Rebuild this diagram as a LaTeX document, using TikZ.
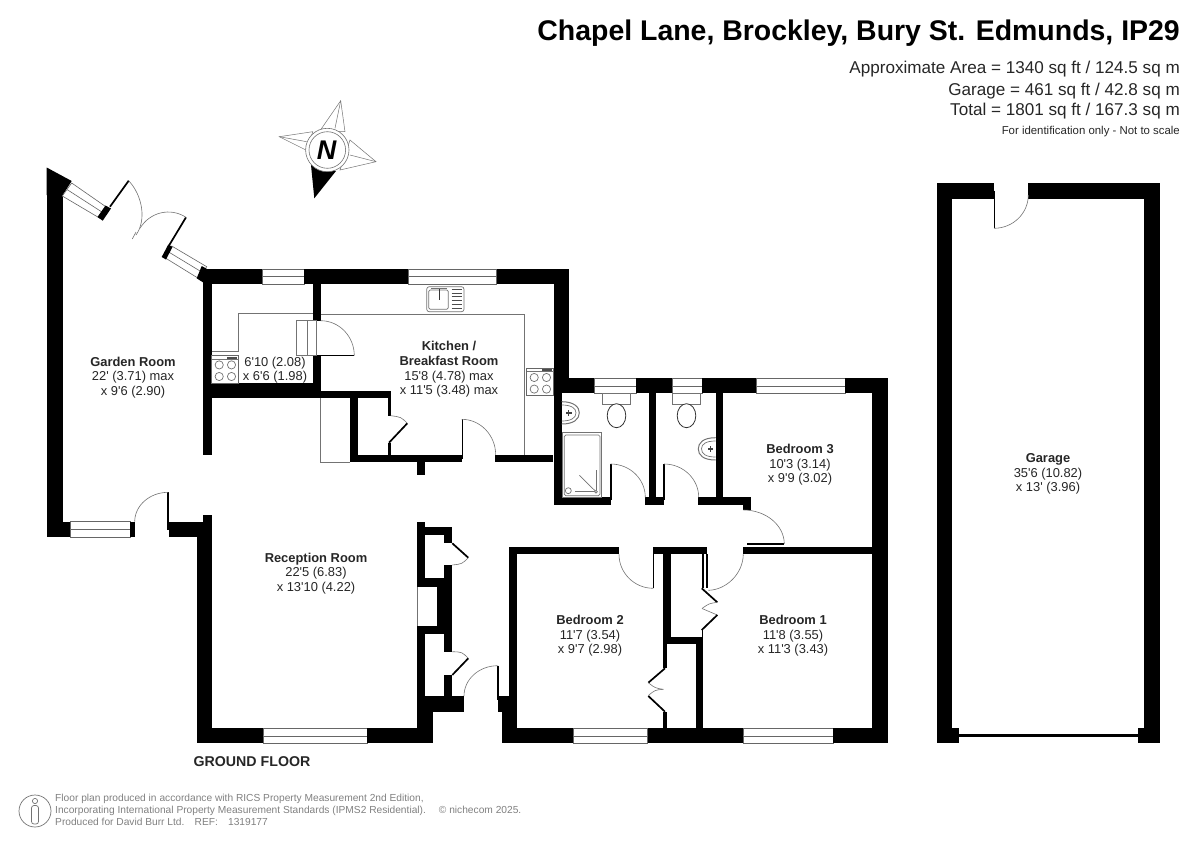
\documentclass[tikz,border=0pt]{standalone}
\usepackage{fontspec}
\newfontfamily\arial{Liberation Sans}
\newcommand{\fsz}[2]{\arial\fontsize{#1}{#2}\selectfont}
\tikzset{
  room/.style={font=\fsz{12.9}{14.6}, align=center, inner sep=0pt, text=black!85},
  rt/.style={font=\fsz{17.1}{21}, anchor=east, inner sep=0pt, text=black!85},
  foot/.style={font=\fsz{10.2}{12.2}, align=left, anchor=west, inner sep=0pt, text=black!50},
  arcline/.style={draw=black!55, line width=0.6pt},
  leaf/.style={draw=black, line width=1.7pt},
  fine/.style={draw=black!55, line width=0.7pt},
  fix/.style={draw=black!60, line width=0.8pt, fill=white},
  winline/.style={draw=black!60, line width=0.6pt, fill=white},
}
\newcommand{\wl}[4]{\fill[black] (#1,#2) rectangle (#3,#4);}
% horizontal window
\newcommand{\winh}[4]{\draw[winline] (#1,#2) rectangle (#3,#4); \draw[winline] (#1,{(#2+#4)/2}) -- (#3,{(#2+#4)/2});}
% door: hinge, leaf tip, closed tip
\newcommand{\qarc}[6]{\draw[arcline] (#3,#4) .. controls ({#3+0.5523*(#5-#1)},{#4+0.5523*(#6-#2)}) and ({#5+0.5523*(#3-#1)},{#6+0.5523*(#4-#2)}) .. (#5,#6);}
\newcommand{\hobb}[2]{% top-left of 27x27 hob
  \draw[fix] (#1,#2) rectangle ++(27,27.5);
  \draw[fine] (#1,#2+3.5) -- ++(27,0);
  \fill[black!70] (#1+15,#2+1) rectangle ++(10,2);
  \foreach \dx/\dy in {7.5/9.2,19.8/9.2,7.5/20.8,19.8/20.8}{\draw[fine] (#1+\dx,#2+\dy) circle[radius=4.1];}
}
\newcommand{\wcpan}[2]{% tank left-top x,y
  \draw[fine] (#1,#2) rectangle ++(28.4,11);
  \draw[draw=black!80,line width=0.8pt,fill=white] (#1+14.2,#2+22.4) ellipse[x radius=9.3,y radius=12];
}
\begin{document}
\begin{tikzpicture}[x=1pt,y=-1pt]
\useasboundingbox (0,0) rectangle (1200,849);
% ---------- header
\node[font=\fsz{28.45}{32}\bfseries, anchor=east, inner sep=0pt] (title) at (1180,33.5) {Chapel Lane, Brockley, Bury St. Edmunds, IP29};
\node[rt] (a1) at (1180,69.5) {Approximate Area = 1340 sq ft / 124.5 sq m};
\node[rt] (a2) at (1180,91) {Garage = 461 sq ft / 42.8 sq m};
\node[rt] (a3) at (1180,111.5) {Total = 1801 sq ft / 167.3 sq m};
\node[font=\fsz{11.4}{13}, anchor=east, inner sep=0pt, text=black!85] (a4) at (1180,132) {For identification only - Not to scale};
% ---------- compass
\draw[fine,line width=0.5pt,fill=white] (340.7,100.7) -- (320,130.7) -- (345,131.7) -- cycle;
\draw[fine,line width=0.5pt] (340.7,100.7) -- (335,128.3);
\draw[fine,line width=0.5pt,fill=white] (376,161.7) -- (350,140) -- (340,170) -- cycle;
\draw[fine,line width=0.5pt] (376,161.7) -- (350,155);
\draw[fine,line width=0.5pt,fill=white] (279.3,136.7) -- (312.7,131.7) -- (307.3,150.7) -- cycle;
\draw[fine,line width=0.5pt] (279.3,136.7) -- (306.7,141.7);
\fill[black] (314.3,198.3) -- (311,165) -- (336,171) -- cycle;
\draw[fine,line width=0.6pt,fill=white] (327.3,150) circle[radius=21.7];
\draw[fine,line width=0.6pt,fill=white] (327.3,150) circle[radius=18.3];
\node[font=\fsz{27}{29}\bfseries\itshape, inner sep=0pt] (north) at (326.5,150.5) {N};
% ---------- garden room
\fill[black] (46.7,167.5) -- (71.7,181) -- (62.5,195.5) -- (46.7,195) -- cycle;
\wl{46.7}{190}{62.7}{537.3}
\wl{46.7}{521.7}{70.7}{537.3}
\winh{70.7}{521.7}{130}{537.3}
\wl{130}{521.7}{134.7}{537.3}
\draw[winline] (71.7,183) -- (107.7,208) -- (100,218.3) -- (62.3,196) -- cycle;
\draw[winline] (67,189.5) -- (103.8,213.2);
\fill[black] (105.5,205.5) -- (111,208.5) -- (102.7,220.7) -- (97.5,217) -- cycle;
\draw[winline] (171.7,246) -- (206.7,266.7) -- (198.3,278.3) -- (163.3,256.7) -- cycle;
\draw[winline] (167.5,251.3) -- (202.5,272.5);
\fill[black] (168.3,244.5) -- (172.5,247) -- (166,259.5) -- (161.7,257) -- cycle;
\fill[black] (201.7,266) -- (207,269) -- (204,283) -- (196.7,278.3) -- cycle;
% double doors
\draw[leaf] (110,206.7) -- (128.7,180.7);
\qarc{110}{206.7}{128.7}{180.7}{136}{235}
\draw[arcline] (136,232) -- (132.3,239);
\draw[leaf] (168.3,246.7) -- (186,217.3);
\qarc{168.3}{246.7}{186}{217.3}{140}{228.3}
% door garden room
\draw[leaf] (168.3,492.3) -- (168.3,530);
\qarc{168.3}{521.7}{168.3}{492.3}{134.7}{521.7}
% reception left wall
\wl{168.7}{521.7}{212}{537.3}
\wl{203.3}{514.7}{212}{522}
\wl{196.7}{537}{212}{743.3}
\wl{203.3}{282}{211.7}{455.3}
% top wall
\wl{203.3}{269}{262.3}{284.3}
\winh{262.3}{269}{304.3}{284.3}
\wl{304.3}{269}{408.3}{284.3}
\winh{408.3}{269}{496.7}{284.3}
\wl{496.7}{269}{569.3}{284.3}
\wl{554.3}{269}{569.3}{393.3}
% utility partition
\wl{312.7}{284}{320.7}{320.7}
\wl{312.7}{355.7}{320.7}{398.3}
\wl{203.3}{383}{320.7}{398.3}
\wl{320}{390.7}{390.7}{398.3}
\wl{388}{398}{390.7}{415.7}
\wl{388}{442.7}{390.7}{455}
\wl{350}{398}{358.3}{462.3}
\wl{350}{455}{461.7}{462.3}
\wl{417.3}{462}{425.3}{475}
\wl{494.7}{455}{553.3}{462.3}
% counter lines
\draw[fine] (211.7,351.7) -- (238.3,351.7) -- (238.3,313.7) -- (312.7,313.7);
\draw[fine] (320.7,314.3) -- (524,314.3) -- (524,455);
\draw[fine] (320,398) -- (320,462.3) -- (350,462.3);
% utility door
\draw[fine,fill=white] (296.7,320.7) rectangle (316.7,355.7);
\draw[fine] (307.3,320.7) -- (307.3,355.7);
\draw[leaf,line width=1.2pt] (316.7,355.7) -- (354.3,355.7);
\qarc{320.7}{355.7}{354.3}{355.7}{320.7}{320.7}
\hobb{211.7}{355.7}
\hobb{526.7}{368.3}
% kitchen closet door + door
\draw[leaf] (389,442.7) -- (407.3,423.3);
\draw[arcline] (407.3,423.3) .. controls (401,417) .. (390.7,415.7);
\draw[leaf] (462.5,419.3) -- (462.5,459);
\qarc{461.7}{455}{461.7}{419.3}{495.7}{455}
% sink
\draw[fine,rounded corners=2.5pt] (426.7,286.7) rectangle (464,311.7);
\draw[fine,rounded corners=1.5pt] (428.7,290) rectangle (448.3,309.3);
\foreach \yy in {289.5,293.2,296.9,300.6,304.3,308}{\draw[black!70,line width=1pt] (451.7,\yy) -- (462.3,\yy);}
\draw[black!80,line width=0.9pt] (439,289) -- (439,299.5);
\draw[fine] (431,288) -- (447,288);
% ---------- bathrooms
\wl{554}{378.3}{594}{393.3}
\winh{594}{378.3}{636}{393.3}
\wl{636}{378.3}{672.7}{393.3}
\winh{672.7}{378.3}{702.3}{393.3}
\wl{702.3}{378.3}{756}{393.3}
\winh{756}{378.3}{845}{393.3}
\wl{845}{378.3}{887.7}{393.3}
\wl{872.3}{378.3}{887.7}{743.3}
\wl{554}{378.3}{561.7}{505}
\wl{554}{497.3}{610.7}{505}
\wl{648.7}{393}{656.3}{505}
\wl{645.3}{497.3}{664}{505}
\wl{698.3}{497.3}{750.7}{505}
\wl{715.7}{393}{723.3}{497.3}
\wl{743.3}{505}{750.7}{510}
% fixtures
\wcpan{602.3}{393.3}
\wcpan{672.3}{393.3}
\draw[fine,line width=1pt] (561.7,401.7) .. controls (574,401.7) and (579.3,407) .. (579.3,412.8) .. controls (579.3,419) and (574,424) .. (561.7,424);
\draw[fine] (561.7,405) .. controls (571,405) and (576,408) .. (576,412.8) .. controls (576,418) and (571,421) .. (561.7,421);
\fill[black!75] (566,412) rectangle (571.5,414);
\draw[black!75,line width=0.7pt] (568.5,410) -- (568.5,416);
\draw[fine,line width=1pt] (715.7,437.7) .. controls (703,437.7) and (698.3,443) .. (698.3,448.8) .. controls (698.3,455) and (703,460) .. (715.7,460);
\draw[fine] (715.7,441) .. controls (706,441) and (701.5,444) .. (701.5,448.8) .. controls (701.5,454) and (706,457) .. (715.7,457);
\fill[black!75] (707.5,448) rectangle (713,450);
\draw[black!75,line width=0.7pt] (710.5,446) -- (710.5,452);
\draw[fine] (562.7,432.7) rectangle (601.7,497.3);
\draw[fine,rounded corners=1.5pt] (564.3,435) rectangle (600,495.7);
\draw[fine] (579.3,475.3) -- (596,491.7);
\draw[fine] (596,470) -- (596,491.7) -- (575,491.7);
\draw[fine,fill=white] (568.3,490.7) circle[radius=3];
\draw[fine,fill=white] (596,491.7) circle[radius=1.4];
% bath doors
\draw[leaf] (610.7,464) -- (610.7,500);
\qarc{610.7}{497.3}{610.7}{464}{645.3}{497.3}
\draw[leaf] (664,464) -- (664,500);
\qarc{664}{497.3}{664}{464}{698.7}{497.3}
\draw[leaf] (747.3,544) -- (784.3,544);
\qarc{743.3}{544}{784.3}{544}{743.3}{510}
% ---------- bedrooms walls
\wl{509.3}{546.7}{619}{554.3}
\wl{509.3}{546.7}{517.3}{743.3}
\wl{653.3}{547.3}{707.3}{554.3}
\wl{743.3}{546.7}{887.7}{554.3}
\draw[leaf,line width=1.3pt] (653.5,554) -- (653.5,588.3);
\qarc{653.3}{554.3}{653.3}{588.3}{619}{554.3}
\wl{663.3}{554}{671}{644.3}
\wl{663.3}{636.7}{703.3}{644.3}
\wl{663.3}{644}{666.7}{668.3}
\wl{663.3}{711.7}{666.7}{728.5}
\wl{696}{644}{703.3}{728.5}
\wl{701.7}{630}{703.3}{637}
\wl{701.7}{554}{704}{588.3}
\wl{706}{554}{708.3}{588.3}
% arc bedroom 1 door
\draw[arcline] (743.3,554.3) .. controls (743,574) and (726,590) .. (708.3,590.3);
\draw[leaf] (701.7,588.3) -- (717.3,602.3);
\draw[arcline] (717.3,602.3) .. controls (709,603.5) .. (702,608.5);
\draw[arcline] (717.3,615) .. controls (709,612) .. (702,608.5);
\draw[leaf] (717.3,615) -- (701.7,630);
\draw[leaf] (665,668.3) -- (648.3,682.7);
\draw[arcline] (648.3,682.7) .. controls (655,688) .. (663.3,689.3);
\draw[arcline] (648.3,695.5) .. controls (655,690) .. (663.3,689.3);
\draw[leaf] (648.3,696) -- (665,711.7);
% bottom walls
\wl{501.7}{728.3}{573.3}{743.3}
\winh{573.3}{728.3}{647.7}{743.3}
\wl{647.7}{728.3}{743}{743.3}
\winh{743}{728.3}{833}{743.3}
\wl{833}{728.3}{887.7}{743.3}
\wl{196.7}{728.3}{263}{743.3}
\winh{263}{728.3}{367}{743.3}
\wl{367}{728.3}{432.7}{743.3}
\wl{425}{711}{432.7}{743.3}
% front cupboards
\wl{417.3}{522}{425}{586.7}
\wl{417.3}{526.7}{452.3}{535}
\wl{444.3}{535}{452.3}{543.3}
\wl{444.3}{565}{452.3}{651.7}
\wl{417.3}{578.3}{452.3}{586.7}
\wl{436.7}{578.3}{452.3}{634}
\wl{417.3}{626}{452.3}{634}
\wl{417.3}{626}{425}{728.5}
\draw[fine] (417.3,586.7) -- (417.3,626);
\wl{444.3}{675}{452.3}{696}
\wl{417.3}{696}{464}{711.7}
\draw[leaf] (452.3,543.3) -- (468.3,557.7);
\draw[arcline] (468.3,557.7) .. controls (462,564) .. (452.3,565);
\draw[leaf] (452.3,675) -- (468.3,658.3);
\draw[arcline] (468.3,658.3) .. controls (462,652) .. (452.3,651.7);
% entry door
\draw[leaf,line width=1.3pt] (498,665.7) -- (498,700);
\qarc{497.7}{696}{497.7}{665.7}{464}{696}
\wl{497.7}{696}{510}{711.7}
\wl{501.7}{711}{517.3}{743.3}
% ---------- garage
\wl{936.7}{183.3}{994}{199}
\wl{1028.3}{183.3}{1160}{199}
\wl{936.7}{183.3}{951.7}{743.3}
\wl{1144.3}{183.3}{1160}{743.3}
\wl{936.7}{728.3}{959.3}{743.3}
\wl{1137.7}{728.3}{1160}{743.3}
\wl{959.3}{734}{1137.7}{737.3}
\draw[leaf,line width=1.3pt] (994.3,190.7) -- (994.3,228.3);
\qarc{994}{195}{994}{228.3}{1028.3}{195}
% ---------- labels
\node[room] (r1) at (133,377.5) {\textbf{Garden Room}\\22' (3.71) max\\x 9'6 (2.90)};
\node[room] (r2) at (275,370) {6'10 (2.08)\\x 6'6 (1.98)};
\node[room] (r3) at (449,369.5) {\textbf{Kitchen /}\\\textbf{Breakfast Room}\\15'8 (4.78) max\\x 11'5 (3.48) max};
\node[room] (r4) at (316,573.5) {\textbf{Reception Room}\\22'5 (6.83)\\x 13'10 (4.22)};
\node[room] (r5) at (800,465) {\textbf{Bedroom 3}\\10'3 (3.14)\\x 9'9 (3.02)};
\node[room] (r6) at (590,636) {\textbf{Bedroom 2}\\11'7 (3.54)\\x 9'7 (2.98)};
\node[room] (r7) at (793,636) {\textbf{Bedroom 1}\\11'8 (3.55)\\x 11'3 (3.43)};
\node[room] (r8) at (1048,474) {\textbf{Garage}\\35'6 (10.82)\\x 13' (3.96)};
\node[font=\fsz{14.2}{16}\bfseries, inner sep=0pt, text=black!85] (gf) at (252,762) {GROUND FLOOR};
% ---------- footer
\draw[fine] (35,811) circle[radius=16];
\draw[fine] (35,801) circle[radius=2.6];
\draw[fine,rounded corners=2.5pt] (31.5,805.5) rectangle (38.5,824);
\node[foot] (f1) at (55,810) {Floor plan produced in accordance with RICS Property Measurement 2nd Edition,\\Incorporating International Property Measurement Standards (IPMS2 Residential).\hspace{13pt}© nichecom 2025.\\Produced for David Burr Ltd.\quad REF:\quad 1319177};
\end{tikzpicture}
\end{document}
